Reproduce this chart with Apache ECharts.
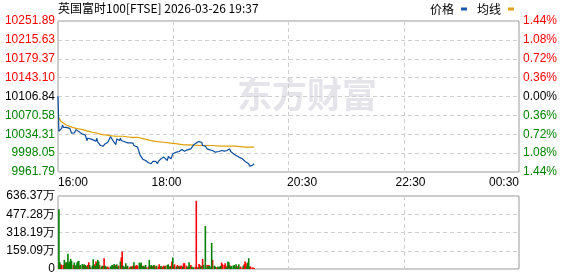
<!DOCTYPE html>
<html>
<head>
<meta charset="utf-8">
<script src="https://cdn.jsdelivr.net/npm/echarts@6/dist/echarts.min.js"></script>
<style>
html,body{margin:0;padding:0;background:#fff;}
#c{width:578px;height:276px;}
</style>
</head>
<body>
<div id="c"></div>
<script>
// ---- data ----
const titleText = '英国富时100[FTSE] 2026-03-26 19:37';
const priceTicks = ['9961.79','9998.05','10034.31','10070.58','10106.84','10143.10','10179.37','10215.63','10251.89'];
const pctTicks = ['1.44%','1.08%','0.72%','0.36%','0.00%','0.36%','0.72%','1.08%','1.44%'];
const timeTicks = [0,120,270,390,510];
const timeLabels = ['16:00','18:00','20:30','22:30','00:30'];
const volTicks = ['0','159.09万','318.19万','477.28万','636.37万'];
const volMax = 636.37;

// minutes since 16:00
const priceTime = [0,1,3,4,5,6,7,9,10,11,13,14,15,16,17,18,20,21,22,24,25,26,27,28,30,31,32,33,35,36,37,38,39,41,42,43,44,46,47,48,49,50,52,53,54,55,57,58,59,60,62,63,64,65,66,68,69,70,72,73,74,77,78,79,80,81,83,84,85,86,88,89,90,91,93,94,95,96,97,99,100,101,103,104,105,106,107,108,110,111,112,114,115,116,117,118,119,121,122,123,125,126,127,128,129,131,132,133,134,136,137,138,139,140,142,143,144,145,147,148,149,150,152,153,154,156,157,158,159,160,162,163,164,165,167,168,169,170,171,173,174,175,176,178,179,180,181,183,184,185,186,187,189,190,191,192,194,195,196,197,198,200,201,202,204,205,206,207,208,209,211,212,213,215,216,217];
const priceValue = [10107.5,10040.0,10040.0,10045.7,10052.1,10047.6,10049.5,10047.6,10045.7,10048.9,10045.7,10044.4,10036.2,10033.0,10038.1,10036.8,10043.2,10040.0,10043.2,10038.1,10036.2,10038.1,10034.9,10038.1,10033.0,10028.5,10022.2,10026.6,10028.5,10025.4,10024.1,10025.4,10023.5,10025.4,10020.9,10026.6,10019.0,10015.8,10012.7,10012.7,10012.7,10011.4,10015.8,10017.7,10015.8,10019.0,10025.4,10029.8,10028.5,10026.6,10019.0,10015.8,10014.6,10025.4,10026.6,10022.2,10026.6,10022.2,10025.4,10020.3,10022.2,10017.7,10019.0,10015.8,10017.7,10019.0,10017.1,10012.7,10009.5,10011.4,10009.5,10012.7,10008.8,9993.6,9990.4,9986.0,9984.0,9982.8,9984.0,9980.8,9979.6,9982.1,9977.7,9980.8,9982.1,9980.8,9984.0,9982.1,9977.7,9982.1,9985.3,9987.2,9985.9,9987.2,9990.4,9991.7,9987.2,9984.0,9991.7,9993.6,9987.2,9990.4,9996.7,9996.7,9998.7,9999.9,9999.9,9998.7,10001.2,10001.8,10005.0,10007.6,10004.4,10001.8,10004.4,10004.4,10004.4,10007.6,10006.3,10006.3,10009.5,10013.9,10015.8,10017.7,10019.0,10020.3,10019.0,10020.3,10019.0,10012.7,10009.5,10011.4,10007.6,10006.3,10005.0,10004.4,10004.4,10003.1,10003.1,10001.8,9999.9,9999.9,10003.1,10001.2,10001.8,9999.9,10003.1,9999.9,10001.8,10003.1,10003.1,10003.1,10004.4,10006.3,10001.2,10001.2,9996.7,9998.0,9995.5,9993.6,9993.6,9990.4,9991.7,9990.4,9987.2,9989.1,9985.3,9982.1,9979.6,9979.6,9977.7,9973.2,9975.8,9974.5,9977.7,9977.7];

const avgTime = [1,3,5,9,13,16,20,24,27,31,35,38,42,46,49,53,57,64,72,80,88,95,103,110,117,125,132,139,147,156,170,181,196,207,217];
const avgValue = [10066.7,10059.1,10055.3,10052.1,10049.5,10047.6,10045.7,10044.4,10043.2,10041.3,10039.4,10038.1,10036.8,10034.9,10033.6,10033.0,10031.7,10030.5,10030.5,10028.5,10028.5,10025.4,10022.2,10020.3,10019.0,10017.1,10015.8,10013.9,10013.9,10012.7,10012.7,10011.4,10011.4,10009.5,10009.5];

// volume (万), [minute, value]
const volUp = [[3,41],[4,35],[6,35],[8,50],[17,35],[19,21],[24,29],[28,29],[31,29],[33,35],[34,59],[36,15],[40,41],[42,65],[46,35],[50,27],[51,94],[54,12],[55,21],[56,12],[61,27],[64,35],[67,29],[70,100],[71,153],[74,12],[76,21],[79,12],[80,21],[82,21],[83,29],[85,21],[86,29],[87,35],[88,27],[93,29],[96,21],[98,12],[100,21],[102,21],[104,29],[107,29],[108,12],[111,21],[112,41],[113,21],[115,12],[116,21],[117,29],[119,29],[123,21],[125,29],[126,65],[128,29],[129,41],[132,35],[133,27],[135,29],[136,29],[137,29],[139,50],[140,50],[142,29],[146,21],[147,35],[149,12],[152,21],[153,595],[154,12],[156,44],[157,35],[159,27],[160,88],[165,35],[167,35],[171,80],[175,12],[176,12],[178,12],[181,56],[182,41],[184,35],[185,50],[187,29],[190,35],[196,12],[198,27],[201,12],[202,21],[204,12],[206,41],[207,65],[208,50],[212,21],[213,21],[215,12],[216,12],[217,9]];
const volDown = [[1,521],[2,59],[7,80],[9,59],[10,59],[11,133],[12,50],[13,65],[14,88],[15,71],[18,56],[20,35],[21,56],[22,65],[23,71],[25,35],[27,44],[29,41],[30,35],[32,21],[35,35],[38,29],[39,85],[41,29],[43,50],[44,80],[45,65],[48,21],[49,29],[52,29],[53,21],[58,21],[59,29],[60,35],[62,44],[63,29],[65,41],[66,21],[69,65],[72,29],[73,21],[75,50],[77,29],[81,21],[84,59],[90,56],[91,41],[92,56],[94,21],[95,29],[97,35],[101,80],[103,35],[105,21],[106,35],[109,29],[114,27],[118,21],[121,35],[122,41],[124,21],[127,100],[131,21],[134,21],[138,21],[143,12],[144,21],[145,59],[148,21],[150,15],[155,12],[158,21],[161,35],[163,374],[164,12],[166,29],[168,27],[169,12],[170,227],[173,29],[174,21],[177,21],[179,21],[180,27],[186,12],[188,65],[189,59],[191,21],[192,27],[194,29],[195,35],[197,41],[199,12],[200,41],[205,29],[209,21],[210,56],[211,94]];

// ---- chart ----
const FONT = '"Liberation Sans", Arial, sans-serif';
const CJK = '"Noto Sans CJK SC", sans-serif';
const RED = '#ff0000', GREEN = '#008000';
const splitStyle = {color:'#cfcfcf', type:[4,3], width:1};

const chart = echarts.init(document.getElementById('c'), null, {renderer:'canvas'});
const priceData = priceTime.map((t,i)=>[t, priceValue[i]]);
const avgData = avgTime.map((t,i)=>[t, avgValue[i]]);

chart.setOption({
  animation:false,
  backgroundColor:'#fff',
  title:{text:titleText, left:58, top:2, padding:0,
    textStyle:{fontSize:12, fontWeight:'normal', fontFamily:CJK, color:'#000'}},
  legend:{data:['价格','均线'], right:64, top:3, padding:0, align:'right', icon:'rect',
    itemWidth:6, itemHeight:3, itemGap:10,
    textStyle:{fontSize:12, fontFamily:CJK, color:'#000', padding:[0,2,0,0]}},
  graphic:[{type:'text', left:237, top:77, silent:true, z:0,
    style:{text:'东方财富', font:'bold 35px "Noto Sans CJK SC"', fill:'#e4e4ea'}}],
  grid:[
    {left:58, top:21, width:461, height:151, show:true, borderColor:'#999', borderWidth:1, containLabel:false},
    {left:58, top:196, width:461, height:73, show:true, borderColor:'#999', borderWidth:1, containLabel:false}
  ],
  xAxis:[
    {type:'value', gridIndex:0, min:0, max:510, interval:127.5,
      axisLine:{show:false}, axisTick:{show:false},
      splitLine:{show:true, lineStyle:splitStyle},
      axisLabel:{customValues:timeTicks, formatter:(v)=>timeLabels[timeTicks.indexOf(v)] || '',
        alignMinLabel:'left', alignMaxLabel:'right',
        color:'#000', fontSize:12, fontFamily:FONT, margin:5}},
    {type:'value', gridIndex:1, min:0, max:510, interval:127.5,
      axisLine:{show:false}, axisTick:{show:false}, axisLabel:{show:false},
      splitLine:{show:true, lineStyle:splitStyle}}
  ],
  yAxis:[
    {type:'value', gridIndex:0, min:parseFloat(priceTicks[0]), max:parseFloat(priceTicks[priceTicks.length-1]), show:false},
    {type:'value', gridIndex:0, position:'left', min:0, max:8, interval:1,
      axisLine:{show:false}, axisTick:{show:false},
      splitLine:{show:true, lineStyle:splitStyle},
      axisLabel:{margin:3, fontSize:12, fontFamily:FONT,
        formatter:(v)=>{const i=Math.round(v); const k=i<4?'g':(i>4?'r':'k'); return '{'+k+'|'+priceTicks[i]+'}';},
        rich:{g:{color:GREEN, fontSize:12, fontFamily:FONT}, r:{color:RED, fontSize:12, fontFamily:FONT}, k:{color:'#000', fontSize:12, fontFamily:FONT}}}},
    {type:'value', gridIndex:0, position:'right', min:0, max:8, interval:1,
      axisLine:{show:false}, axisTick:{show:false}, splitLine:{show:false},
      axisLabel:{margin:4, fontSize:12, fontFamily:FONT,
        formatter:(v)=>{const i=Math.round(v); const k=i<4?'g':(i>4?'r':'k'); return '{'+k+'|'+pctTicks[i]+'}';},
        rich:{g:{color:GREEN, fontSize:12, fontFamily:FONT}, r:{color:RED, fontSize:12, fontFamily:FONT}, k:{color:'#000', fontSize:12, fontFamily:FONT}}}},
    {type:'value', gridIndex:1, min:0, max:volMax, interval:volMax/4,
      axisLine:{show:false}, axisTick:{show:false},
      splitLine:{show:true, lineStyle:splitStyle},
      axisLabel:{margin:3, color:'#000', fontSize:12, fontFamily:FONT,
        formatter:(v)=>volTicks[Math.round(v/(volMax/4))]}}
  ],
  series:[
    {name:'价格', type:'line', xAxisIndex:0, yAxisIndex:0, data:priceData, showSymbol:false,
      lineStyle:{color:'#0b4c9c', width:1.2}, itemStyle:{color:'#1a56a8'}, z:4},
    {name:'均线', type:'line', xAxisIndex:0, yAxisIndex:0, data:avgData, showSymbol:false,
      lineStyle:{color:'#dfa000', width:1.2}, itemStyle:{color:'#e0a020'}, z:3},
    {name:'up', type:'bar', xAxisIndex:1, yAxisIndex:3, data:volUp, barWidth:1.6, barGap:'-100%',
      itemStyle:{color:RED}},
    {name:'down', type:'bar', xAxisIndex:1, yAxisIndex:3, data:volDown, barWidth:1.6, barGap:'-100%',
      itemStyle:{color:GREEN}}
  ]
});
</script>
</body>
</html>
